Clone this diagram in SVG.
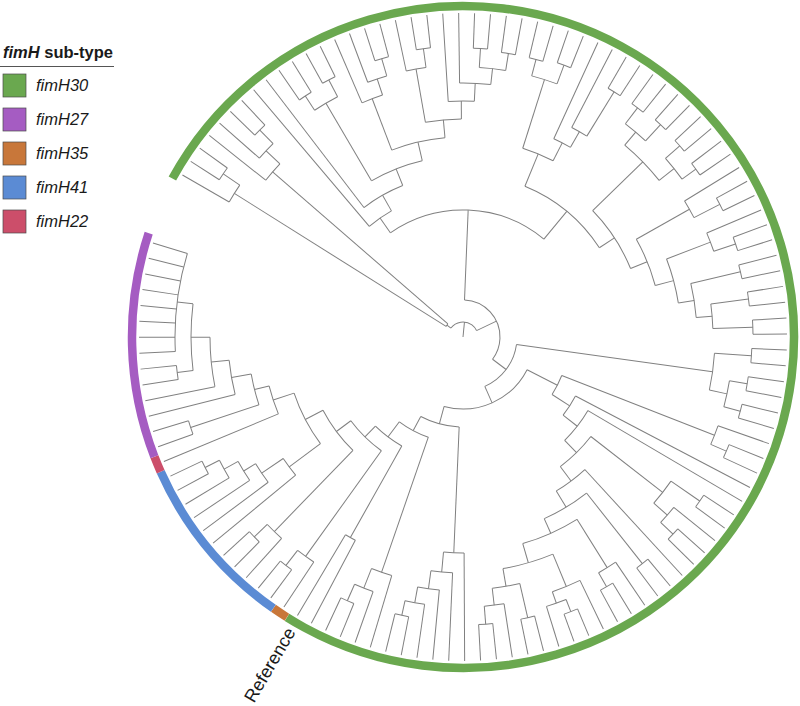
<svg xmlns="http://www.w3.org/2000/svg" width="800" height="706" viewBox="0 0 800 706">
<style>
text{font-family:"Liberation Sans",Arial,sans-serif;fill:#1a1a1a}
#tree{fill:none;stroke:#808080;stroke-width:1}
#tree circle,#tree path,#ring circle{transform:rotate(calc(var(--a)*2.82deg))}
#ring{fill:none;stroke-width:8.5}
.box{stroke:#4a4a4a;stroke-width:0.7}
.lab{font-size:16.5px;font-style:italic}
</style>
<rect width="800" height="706" fill="#fff"/>
<g id="legend">
<text x="3" y="58" font-size="16.5" font-weight="bold"><tspan font-style="italic">fimH</tspan> sub-type</text>
<line x1="0" y1="66.5" x2="114" y2="66.5" stroke="#555" stroke-width="1"/>
<rect class="box" x="3" y="74" width="23" height="23" fill="#6aa84f"/>
<rect class="box" x="3" y="108" width="23" height="23" fill="#a55cc2"/>
<rect class="box" x="3" y="142" width="23" height="23" fill="#c8773a"/>
<rect class="box" x="3" y="176" width="23" height="23" fill="#5b8bd4"/>
<rect class="box" x="3" y="210" width="23" height="23" fill="#cc4e6a"/>
<text class="lab" x="36" y="91">fimH30</text>
<text class="lab" x="36" y="125">fimH27</text>
<text class="lab" x="36" y="159">fimH35</text>
<text class="lab" x="36" y="193">fimH41</text>
<text class="lab" x="36" y="227">fimH22</text>
</g>
<g id="ring" transform="translate(463 337) rotate(210.01)">
<circle r="331" pathLength="127.66" style="--a:-.5" stroke="#6aa84f" stroke-dasharray="97 999"/>
<circle r="331" pathLength="127.66" style="--a:96.5" stroke="#c8773a" stroke-dasharray="1 999"/>
<circle r="331" pathLength="127.66" style="--a:97.5" stroke="#5b8bd4" stroke-dasharray="11 999"/>
<circle r="331" pathLength="127.66" style="--a:108.5" stroke="#cc4e6a" stroke-dasharray="1 999"/>
<circle r="331" pathLength="127.66" style="--a:109.5" stroke="#a55cc2" stroke-dasharray="14 999"/>
</g>
<g id="tree" transform="translate(463 337) rotate(210.01)">
<g id="node-arcs">
<circle r="15" style="--a:2.31" stroke-dasharray="41.89 999" pathLength="127.66"/>
<circle r="20" style="--a:.75" stroke-dasharray="3.125 999" pathLength="127.66"/>
<circle r="270" style="--a:0" stroke-dasharray="1.5 999" pathLength="127.66"/>
<circle r="290" style="--a:1" stroke-dasharray="1 999" pathLength="127.66"/>
<circle r="252" style="--a:3" stroke-dasharray="1.75 999" pathLength="127.66"/>
<circle r="271" style="--a:4" stroke-dasharray="1.5 999" pathLength="127.66"/>
<circle r="290" style="--a:5" stroke-dasharray="1 999" pathLength="127.66"/>
<circle r="37" style="--a:22.1" stroke-dasharray="44.2 999" pathLength="127.66"/>
<circle r="127" style="--a:8.9" stroke-dasharray="26.4 999" pathLength="127.66"/>
<circle r="145" style="--a:7" stroke-dasharray="3.79 999" pathLength="127.66"/>
<circle r="163" style="--a:8" stroke-dasharray="5.58 999" pathLength="127.66"/>
<circle r="181" style="--a:10.5" stroke-dasharray="6.16 999" pathLength="127.66"/>
<circle r="271" style="--a:9.5" stroke-dasharray="2 999" pathLength="127.66"/>
<circle r="288" style="--a:9" stroke-dasharray="1 999" pathLength="127.66"/>
<circle r="290" style="--a:11" stroke-dasharray="1 999" pathLength="127.66"/>
<circle r="200" style="--a:13.875" stroke-dasharray="5.565 999" pathLength="127.66"/>
<circle r="255" style="--a:13" stroke-dasharray="1.75 999" pathLength="127.66"/>
<circle r="272" style="--a:14" stroke-dasharray="1.5 999" pathLength="127.66"/>
<circle r="290" style="--a:15" stroke-dasharray="1 999" pathLength="127.66"/>
<circle r="218" style="--a:17.75" stroke-dasharray="3.375 999" pathLength="127.66"/>
<circle r="272" style="--a:17" stroke-dasharray="1.5 999" pathLength="127.66"/>
<circle r="291" style="--a:18" stroke-dasharray="1 999" pathLength="127.66"/>
<circle r="236" style="--a:20" stroke-dasharray="2.25 999" pathLength="127.66"/>
<circle r="254" style="--a:21" stroke-dasharray="2.5 999" pathLength="127.66"/>
<circle r="270" style="--a:22.5" stroke-dasharray="2 999" pathLength="127.66"/>
<circle r="289" style="--a:22" stroke-dasharray="1 999" pathLength="127.66"/>
<circle r="287" style="--a:24" stroke-dasharray="1 999" pathLength="127.66"/>
<circle r="163" style="--a:29.19" stroke-dasharray="12.22 999" pathLength="127.66"/>
<circle r="198" style="--a:27.5" stroke-dasharray="3.375 999" pathLength="127.66"/>
<circle r="270" style="--a:26.5" stroke-dasharray="2 999" pathLength="127.66"/>
<circle r="287" style="--a:26" stroke-dasharray="1 999" pathLength="127.66"/>
<circle r="290" style="--a:28" stroke-dasharray="1 999" pathLength="127.66"/>
<circle r="218" style="--a:30" stroke-dasharray="1.75 999" pathLength="127.66"/>
<circle r="236" style="--a:31" stroke-dasharray="1.5 999" pathLength="127.66"/>
<circle r="288" style="--a:32" stroke-dasharray="1 999" pathLength="127.66"/>
<circle r="181" style="--a:37.5" stroke-dasharray="7.81 999" pathLength="127.66"/>
<circle r="251" style="--a:35.5" stroke-dasharray="4 999" pathLength="127.66"/>
<circle r="268" style="--a:34.5" stroke-dasharray="2 999" pathLength="127.66"/>
<circle r="288" style="--a:34" stroke-dasharray="1 999" pathLength="127.66"/>
<circle r="290" style="--a:36" stroke-dasharray="1 999" pathLength="127.66"/>
<circle r="270" style="--a:38.5" stroke-dasharray="2 999" pathLength="127.66"/>
<circle r="289" style="--a:38" stroke-dasharray="1 999" pathLength="127.66"/>
<circle r="287" style="--a:40" stroke-dasharray="1 999" pathLength="127.66"/>
<circle r="199" style="--a:42.75" stroke-dasharray="5.125 999" pathLength="127.66"/>
<circle r="260" style="--a:42" stroke-dasharray="1.5 999" pathLength="127.66"/>
<circle r="289" style="--a:43" stroke-dasharray="1 999" pathLength="127.66"/>
<circle r="218" style="--a:45.75" stroke-dasharray="4.25 999" pathLength="127.66"/>
<circle r="265" style="--a:45" stroke-dasharray="1.5 999" pathLength="127.66"/>
<circle r="288" style="--a:46" stroke-dasharray="1 999" pathLength="127.66"/>
<circle r="234" style="--a:48.5" stroke-dasharray="3 999" pathLength="127.66"/>
<circle r="285" style="--a:48" stroke-dasharray="1 999" pathLength="127.66"/>
<circle r="250" style="--a:50.5" stroke-dasharray="2 999" pathLength="127.66"/>
<circle r="288" style="--a:50" stroke-dasharray="1 999" pathLength="127.66"/>
<circle r="290" style="--a:52" stroke-dasharray="1 999" pathLength="127.66"/>
<circle r="54" style="--a:56" stroke-dasharray="20.65 999" pathLength="127.66"/>
<circle r="252" style="--a:54.5" stroke-dasharray="3 999" pathLength="127.66"/>
<circle r="289" style="--a:54" stroke-dasharray="1 999" pathLength="127.66"/>
<circle r="270" style="--a:56.5" stroke-dasharray="2 999" pathLength="127.66"/>
<circle r="288" style="--a:56" stroke-dasharray="1 999" pathLength="127.66"/>
<circle r="287" style="--a:58" stroke-dasharray="1 999" pathLength="127.66"/>
<circle r="72" style="--a:62.79" stroke-dasharray="27.71 999" pathLength="127.66"/>
<circle r="106" style="--a:60.75" stroke-dasharray="4.08 999" pathLength="127.66"/>
<circle r="270" style="--a:60" stroke-dasharray="1.5 999" pathLength="127.66"/>
<circle r="287" style="--a:61" stroke-dasharray="1 999" pathLength="127.66"/>
<circle r="127" style="--a:63" stroke-dasharray="3.66 999" pathLength="127.66"/>
<circle r="145" style="--a:64" stroke-dasharray="5.32 999" pathLength="127.66"/>
<circle r="162" style="--a:66.625" stroke-dasharray="5.395 999" pathLength="127.66"/>
<circle r="253" style="--a:65.5" stroke-dasharray="2.25 999" pathLength="127.66"/>
<circle r="288" style="--a:65" stroke-dasharray="1 999" pathLength="127.66"/>
<circle r="271" style="--a:67" stroke-dasharray="1.5 999" pathLength="127.66"/>
<circle r="288" style="--a:68" stroke-dasharray="1 999" pathLength="127.66"/>
<circle r="180" style="--a:70" stroke-dasharray="4.03 999" pathLength="127.66"/>
<circle r="199" style="--a:71.5" stroke-dasharray="5.06 999" pathLength="127.66"/>
<circle r="289" style="--a:71" stroke-dasharray="1 999" pathLength="127.66"/>
<circle r="215" style="--a:73.75" stroke-dasharray="5.63 999" pathLength="127.66"/>
<circle r="272" style="--a:73" stroke-dasharray="1.5 999" pathLength="127.66"/>
<circle r="288" style="--a:74" stroke-dasharray="1 999" pathLength="127.66"/>
<circle r="235" style="--a:77.125" stroke-dasharray="4.505 999" pathLength="127.66"/>
<circle r="270" style="--a:76" stroke-dasharray="2.25 999" pathLength="127.66"/>
<circle r="282" style="--a:77.5" stroke-dasharray="1.5 999" pathLength="127.66"/>
<circle r="295" style="--a:77" stroke-dasharray="1 999" pathLength="127.66"/>
<circle r="253" style="--a:80.5" stroke-dasharray="2.25 999" pathLength="127.66"/>
<circle r="288" style="--a:80" stroke-dasharray="1 999" pathLength="127.66"/>
<circle r="270" style="--a:82" stroke-dasharray="1.5 999" pathLength="127.66"/>
<circle r="288" style="--a:83" stroke-dasharray="1 999" pathLength="127.66"/>
<circle r="90" style="--a:85.97" stroke-dasharray="9.06 999" pathLength="127.66"/>
<circle r="216" style="--a:85" stroke-dasharray="1.94 999" pathLength="127.66"/>
<circle r="236" style="--a:86" stroke-dasharray="1.875 999" pathLength="127.66"/>
<circle r="254" style="--a:87" stroke-dasharray="1.75 999" pathLength="127.66"/>
<circle r="270" style="--a:88" stroke-dasharray="1.5 999" pathLength="127.66"/>
<circle r="285" style="--a:89" stroke-dasharray="1 999" pathLength="127.66"/>
<circle r="106" style="--a:91.875" stroke-dasharray="6.315 999" pathLength="127.66"/>
<circle r="249" style="--a:91" stroke-dasharray="1.75 999" pathLength="127.66"/>
<circle r="270" style="--a:92" stroke-dasharray="1.5 999" pathLength="127.66"/>
<circle r="288" style="--a:93" stroke-dasharray="1 999" pathLength="127.66"/>
<circle r="125" style="--a:95.5" stroke-dasharray="5.37 999" pathLength="127.66"/>
<circle r="230" style="--a:95" stroke-dasharray="1 999" pathLength="127.66"/>
<circle r="140" style="--a:97.75" stroke-dasharray="6.24 999" pathLength="127.66"/>
<circle r="270" style="--a:97" stroke-dasharray="1.5 999" pathLength="127.66"/>
<circle r="289" style="--a:98" stroke-dasharray="1 999" pathLength="127.66"/>
<circle r="158" style="--a:100.75" stroke-dasharray="6.48 999" pathLength="127.66"/>
<circle r="271" style="--a:100" stroke-dasharray="1.5 999" pathLength="127.66"/>
<circle r="289" style="--a:101" stroke-dasharray="1 999" pathLength="127.66"/>
<circle r="178" style="--a:103.97" stroke-dasharray="6.53 999" pathLength="127.66"/>
<circle r="217" style="--a:103" stroke-dasharray="1.94 999" pathLength="127.66"/>
<circle r="243" style="--a:104" stroke-dasharray="1.875 999" pathLength="127.66"/>
<circle r="257" style="--a:105" stroke-dasharray="1.75 999" pathLength="127.66"/>
<circle r="273" style="--a:106" stroke-dasharray="1.5 999" pathLength="127.66"/>
<circle r="289" style="--a:107" stroke-dasharray="1 999" pathLength="127.66"/>
<circle r="200" style="--a:109" stroke-dasharray="3 999" pathLength="127.66"/>
<circle r="215" style="--a:110.5" stroke-dasharray="3 999" pathLength="127.66"/>
<circle r="287" style="--a:110" stroke-dasharray="1 999" pathLength="127.66"/>
<circle r="235" style="--a:112" stroke-dasharray="3 999" pathLength="127.66"/>
<circle r="253" style="--a:113" stroke-dasharray="4 999" pathLength="127.66"/>
<circle r="272" style="--a:114.5" stroke-dasharray="5 999" pathLength="127.66"/>
<circle r="288" style="--a:114" stroke-dasharray="1 999" pathLength="127.66"/>
<circle r="288" style="--a:116" stroke-dasharray="7 999" pathLength="127.66"/>
</g>
<g id="branches">
<path style="--a:23.26" d="M0 0H15"/>
<path style="--a:2.31" d="M15 0H20"/><path style="--a:44.2" d="M15 0H37"/>
<path style="--a:.75" d="M20 0H270"/><path style="--a:3.875" d="M20 0H252"/>
<path style="--a:1.5" d="M270 0H290"/><path style="--a:4.75" d="M252 0H271"/><path style="--a:5.5" d="M271 0H290"/>
<path style="--a:22.1" d="M37 0H127"/><path style="--a:66.3" d="M37 0H54"/>
<path style="--a:8.9" d="M127 0H145"/><path style="--a:35.3" d="M127 0H163"/>
<path style="--a:10.79" d="M145 0H163"/><path style="--a:13.58" d="M163 0H181"/>
<path style="--a:10.5" d="M181 0H271"/><path style="--a:16.66" d="M181 0H200"/>
<path style="--a:9.5" d="M271 0H288"/><path style="--a:11.5" d="M271 0H290"/>
<path style="--a:13.875" d="M200 0H255"/><path style="--a:19.44" d="M200 0H218"/>
<path style="--a:14.75" d="M255 0H272"/><path style="--a:15.5" d="M272 0H290"/>
<path style="--a:17.75" d="M218 0H272"/><path style="--a:21.125" d="M218 0H236"/>
<path style="--a:18.5" d="M272 0H291"/><path style="--a:22.25" d="M236 0H254"/><path style="--a:23.5" d="M254 0H270"/>
<path style="--a:22.5" d="M270 0H289"/><path style="--a:24.5" d="M270 0H287"/>
<path style="--a:29.19" d="M163 0H198"/><path style="--a:41.41" d="M163 0H181"/>
<path style="--a:27.5" d="M198 0H270"/><path style="--a:30.875" d="M198 0H218"/>
<path style="--a:26.5" d="M270 0H287"/><path style="--a:28.5" d="M270 0H290"/>
<path style="--a:31.75" d="M218 0H236"/><path style="--a:32.5" d="M236 0H288"/>
<path style="--a:37.5" d="M181 0H251"/><path style="--a:45.31" d="M181 0H199"/>
<path style="--a:35.5" d="M251 0H268"/><path style="--a:39.5" d="M251 0H270"/>
<path style="--a:34.5" d="M268 0H288"/><path style="--a:36.5" d="M268 0H290"/>
<path style="--a:38.5" d="M270 0H289"/><path style="--a:40.5" d="M270 0H287"/>
<path style="--a:42.75" d="M199 0H260"/><path style="--a:47.875" d="M199 0H218"/>
<path style="--a:43.5" d="M260 0H289"/>
<path style="--a:45.75" d="M218 0H265"/><path style="--a:50" d="M218 0H234"/>
<path style="--a:46.5" d="M265 0H288"/>
<path style="--a:48.5" d="M234 0H285"/><path style="--a:51.5" d="M234 0H250"/>
<path style="--a:50.5" d="M250 0H288"/><path style="--a:52.5" d="M250 0H290"/>
<path style="--a:56" d="M54 0H252"/><path style="--a:76.65" d="M54 0H72"/>
<path style="--a:54.5" d="M252 0H289"/><path style="--a:57.5" d="M252 0H270"/>
<path style="--a:56.5" d="M270 0H288"/><path style="--a:58.5" d="M270 0H287"/>
<path style="--a:62.79" d="M72 0H106"/><path style="--a:90.5" d="M72 0H90"/>
<path style="--a:60.75" d="M106 0H270"/><path style="--a:64.83" d="M106 0H127"/>
<path style="--a:61.5" d="M270 0H287"/><path style="--a:66.66" d="M127 0H145"/><path style="--a:69.32" d="M145 0H162"/>
<path style="--a:66.625" d="M162 0H253"/><path style="--a:72.02" d="M162 0H180"/>
<path style="--a:65.5" d="M253 0H288"/><path style="--a:67.75" d="M253 0H271"/>
<path style="--a:68.5" d="M271 0H288"/><path style="--a:74.03" d="M180 0H199"/>
<path style="--a:71.5" d="M199 0H289"/><path style="--a:76.56" d="M199 0H215"/>
<path style="--a:73.75" d="M215 0H272"/><path style="--a:79.38" d="M215 0H235"/>
<path style="--a:74.5" d="M272 0H288"/>
<path style="--a:77.125" d="M235 0H270"/><path style="--a:81.63" d="M235 0H253"/>
<path style="--a:78.25" d="M270 0H282"/><path style="--a:77.5" d="M282 0H295"/>
<path style="--a:80.5" d="M253 0H288"/><path style="--a:82.75" d="M253 0H270"/>
<path style="--a:83.5" d="M270 0H288"/>
<path style="--a:85.97" d="M90 0H216"/><path style="--a:95.03" d="M90 0H106"/>
<path style="--a:86.94" d="M216 0H236"/><path style="--a:87.875" d="M236 0H254"/>
<path style="--a:88.75" d="M254 0H270"/><path style="--a:89.5" d="M270 0H285"/>
<path style="--a:91.875" d="M106 0H249"/><path style="--a:98.19" d="M106 0H125"/>
<path style="--a:92.75" d="M249 0H270"/><path style="--a:93.5" d="M270 0H288"/>
<path style="--a:95.5" d="M125 0H230"/><path style="--a:100.87" d="M125 0H140"/>
<path style="--a:97.75" d="M140 0H270"/><path style="--a:103.99" d="M140 0H158"/>
<path style="--a:98.5" d="M270 0H289"/>
<path style="--a:100.75" d="M158 0H271"/><path style="--a:107.23" d="M158 0H178"/>
<path style="--a:101.5" d="M271 0H289"/>
<path style="--a:103.97" d="M178 0H217"/><path style="--a:110.5" d="M178 0H200"/>
<path style="--a:104.94" d="M217 0H243"/><path style="--a:105.875" d="M243 0H257"/>
<path style="--a:106.75" d="M257 0H273"/><path style="--a:107.5" d="M273 0H289"/>
<path style="--a:112" d="M200 0H215"/>
<path style="--a:110.5" d="M215 0H287"/><path style="--a:113.5" d="M215 0H235"/>
<path style="--a:115" d="M235 0H253"/><path style="--a:117" d="M253 0H272"/>
<path style="--a:114.5" d="M272 0H288"/><path style="--a:119.5" d="M272 0H288"/>
<path style="--a:0" d="M270 0H324"/><path style="--a:1" d="M290 0H324"/><path style="--a:2" d="M290 0H324"/>
<path style="--a:3" d="M252 0H324"/><path style="--a:4" d="M271 0H324"/><path style="--a:5" d="M290 0H324"/>
<path style="--a:6" d="M290 0H324"/><path style="--a:7" d="M145 0H324"/><path style="--a:8" d="M163 0H324"/>
<path style="--a:9" d="M288 0H324"/><path style="--a:10" d="M288 0H324"/><path style="--a:11" d="M290 0H324"/>
<path style="--a:12" d="M290 0H324"/><path style="--a:13" d="M255 0H324"/><path style="--a:14" d="M272 0H324"/>
<path style="--a:15" d="M290 0H324"/><path style="--a:16" d="M290 0H324"/><path style="--a:17" d="M272 0H324"/>
<path style="--a:18" d="M291 0H324"/><path style="--a:19" d="M291 0H324"/><path style="--a:20" d="M236 0H324"/>
<path style="--a:21" d="M254 0H324"/><path style="--a:22" d="M289 0H324"/><path style="--a:23" d="M289 0H324"/>
<path style="--a:24" d="M287 0H324"/><path style="--a:25" d="M287 0H324"/><path style="--a:26" d="M287 0H324"/>
<path style="--a:27" d="M287 0H324"/><path style="--a:28" d="M290 0H324"/><path style="--a:29" d="M290 0H324"/>
<path style="--a:30" d="M218 0H324"/><path style="--a:31" d="M236 0H324"/><path style="--a:32" d="M288 0H324"/>
<path style="--a:33" d="M288 0H324"/><path style="--a:34" d="M288 0H324"/><path style="--a:35" d="M288 0H324"/>
<path style="--a:36" d="M290 0H324"/><path style="--a:37" d="M290 0H324"/><path style="--a:38" d="M289 0H324"/>
<path style="--a:39" d="M289 0H324"/><path style="--a:40" d="M287 0H324"/><path style="--a:41" d="M287 0H324"/>
<path style="--a:42" d="M260 0H324"/><path style="--a:43" d="M289 0H324"/><path style="--a:44" d="M289 0H324"/>
<path style="--a:45" d="M265 0H324"/><path style="--a:46" d="M288 0H324"/><path style="--a:47" d="M288 0H324"/>
<path style="--a:48" d="M285 0H324"/><path style="--a:49" d="M285 0H324"/><path style="--a:50" d="M288 0H324"/>
<path style="--a:51" d="M288 0H324"/><path style="--a:52" d="M290 0H324"/><path style="--a:53" d="M290 0H324"/>
<path style="--a:54" d="M289 0H324"/><path style="--a:55" d="M289 0H324"/><path style="--a:56" d="M288 0H324"/>
<path style="--a:57" d="M288 0H324"/><path style="--a:58" d="M287 0H324"/><path style="--a:59" d="M287 0H324"/>
<path style="--a:60" d="M270 0H324"/><path style="--a:61" d="M287 0H324"/><path style="--a:62" d="M287 0H324"/>
<path style="--a:63" d="M127 0H324"/><path style="--a:64" d="M145 0H324"/><path style="--a:65" d="M288 0H324"/>
<path style="--a:66" d="M288 0H324"/><path style="--a:67" d="M271 0H324"/><path style="--a:68" d="M288 0H324"/>
<path style="--a:69" d="M288 0H324"/><path style="--a:70" d="M180 0H324"/><path style="--a:71" d="M289 0H324"/>
<path style="--a:72" d="M289 0H324"/><path style="--a:73" d="M272 0H324"/><path style="--a:74" d="M288 0H324"/>
<path style="--a:75" d="M288 0H324"/><path style="--a:76" d="M270 0H324"/><path style="--a:77" d="M295 0H324"/>
<path style="--a:78" d="M295 0H324"/><path style="--a:79" d="M282 0H324"/><path style="--a:80" d="M288 0H324"/>
<path style="--a:81" d="M288 0H324"/><path style="--a:82" d="M270 0H324"/><path style="--a:83" d="M288 0H324"/>
<path style="--a:84" d="M288 0H324"/><path style="--a:85" d="M216 0H324"/><path style="--a:86" d="M236 0H324"/>
<path style="--a:87" d="M254 0H324"/><path style="--a:88" d="M270 0H324"/><path style="--a:89" d="M285 0H324"/>
<path style="--a:90" d="M285 0H324"/><path style="--a:91" d="M249 0H324"/><path style="--a:92" d="M270 0H324"/>
<path style="--a:93" d="M288 0H324"/><path style="--a:94" d="M288 0H324"/><path style="--a:95" d="M230 0H324"/>
<path style="--a:96" d="M230 0H324"/><path style="--a:97" d="M270 0H324"/><path style="--a:98" d="M289 0H324"/>
<path style="--a:99" d="M289 0H324"/><path style="--a:100" d="M271 0H324"/><path style="--a:101" d="M289 0H324"/>
<path style="--a:102" d="M289 0H324"/><path style="--a:103" d="M217 0H324"/><path style="--a:104" d="M243 0H324"/>
<path style="--a:105" d="M257 0H324"/><path style="--a:106" d="M273 0H324"/><path style="--a:107" d="M289 0H324"/>
<path style="--a:108" d="M289 0H324"/><path style="--a:109" d="M200 0H324"/><path style="--a:110" d="M287 0H324"/>
<path style="--a:111" d="M287 0H324"/><path style="--a:112" d="M235 0H324"/><path style="--a:113" d="M253 0H324"/>
<path style="--a:114" d="M288 0H324"/><path style="--a:115" d="M288 0H324"/><path style="--a:116" d="M288 0H324"/>
<path style="--a:117" d="M288 0H324"/><path style="--a:118" d="M288 0H324"/><path style="--a:119" d="M288 0H324"/>
<path style="--a:120" d="M288 0H324"/><path style="--a:121" d="M288 0H324"/><path style="--a:122" d="M288 0H324"/>
<path style="--a:123" d="M288 0H324"/>
</g>
</g>
<text id="reference-label" transform="translate(463 337) rotate(300.5)" x="-339" y="0" text-anchor="end" dominant-baseline="central" font-size="18">Reference</text>
</svg>
